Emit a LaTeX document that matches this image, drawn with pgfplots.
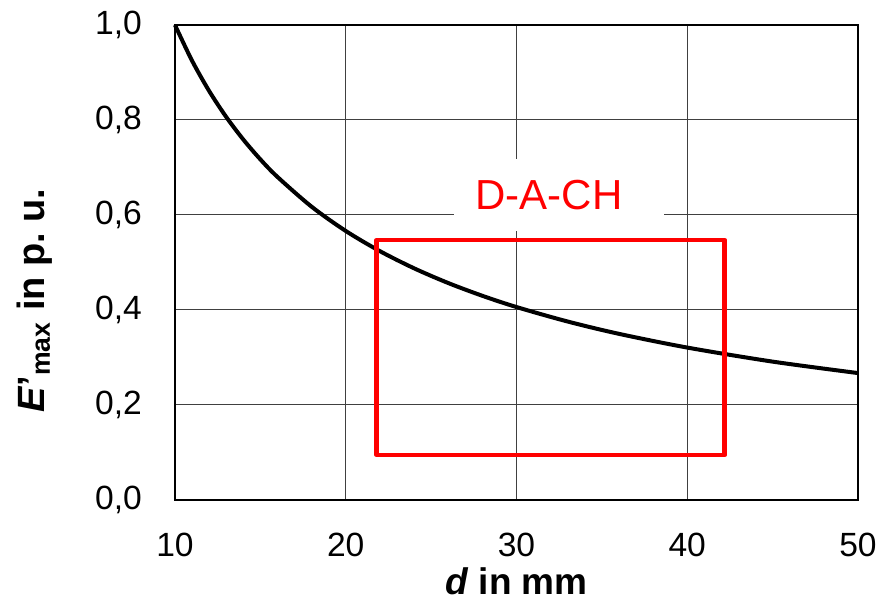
\documentclass[border=0pt]{standalone}
\usepackage{pgfplots}
\pgfplotsset{compat=1.18}
\usepackage{fontspec}
\setmainfont{Liberation Sans}
\definecolor{dachred}{RGB}{255,0,0}
\begin{document}
\begin{tikzpicture}
\begin{axis}[
  scale only axis,
  width=341.5pt, height=237.5pt,
  xmin=10, xmax=50, ymin=0, ymax=1,
  xtick={10,20,30,40,50},
  ytick={0,0.2,0.4,0.6,0.8,1.0},
  major tick length=0pt,
  grid=major,
  grid style={line width=0.5pt, draw=black!75},
  axis line style={line width=0.9pt, black},
  /pgf/number format/assume math mode=true,
  /pgf/number format/.cd, fixed, fixed zerofill, precision=1, use comma,
  /pgfplots/.cd,
  xticklabel={\pgfmathprintnumber[fixed, precision=0]{\tick}},
  tick label style={font=\fontsize{16.8}{20}\selectfont},
  xticklabel style={yshift=-13pt},
  yticklabel style={xshift=-13pt},
  xlabel={\textbf{\textit{d} in mm}},
  ylabel={\textbf{\textit{E}'\textsubscript{max} in p.\ u.}},
  xlabel style={font=\fontsize{18.5}{22}\selectfont, at={(axis description cs:0.5,-0.172)}, anchor=center},
  ylabel style={font=\fontsize{19}{22}\selectfont, at={(axis description cs:-0.205,0.42)}, anchor=center},
  clip=false,
]
\path (rel axis cs:-0.2562,-0.2126) -- (rel axis cs:1.0381,1.0526);
\addplot[black, line width=2pt, smooth] coordinates {
(10,1.0000) (11,0.9248) (12,0.8611) (13,0.8064) (14,0.7589) (15,0.7171)
(16,0.6802) (18,0.6175) (20,0.5664) (22,0.5239) (24,0.4878) (26,0.4568)
(28,0.4299) (30,0.4062) (33,0.3757) (36,0.3498) (40,0.3209) (45,0.2913)
(50,0.2672)
};
\addplot[dachred, line width=2.3pt, line join=round] coordinates {
(21.8,0.547) (42.2,0.547) (42.2,0.095) (21.8,0.095) (21.8,0.547)
} -- cycle;
\node[fill=white, minimum width=105pt, minimum height=36pt, inner sep=0pt]
  at (axis cs:32.5,0.642) {};
\node[text=dachred, inner sep=0pt, font=\fontsize{21}{25}\selectfont]
  at (axis cs:31.9,0.642) {D-A-CH};
\end{axis}
\end{tikzpicture}
\end{document}
